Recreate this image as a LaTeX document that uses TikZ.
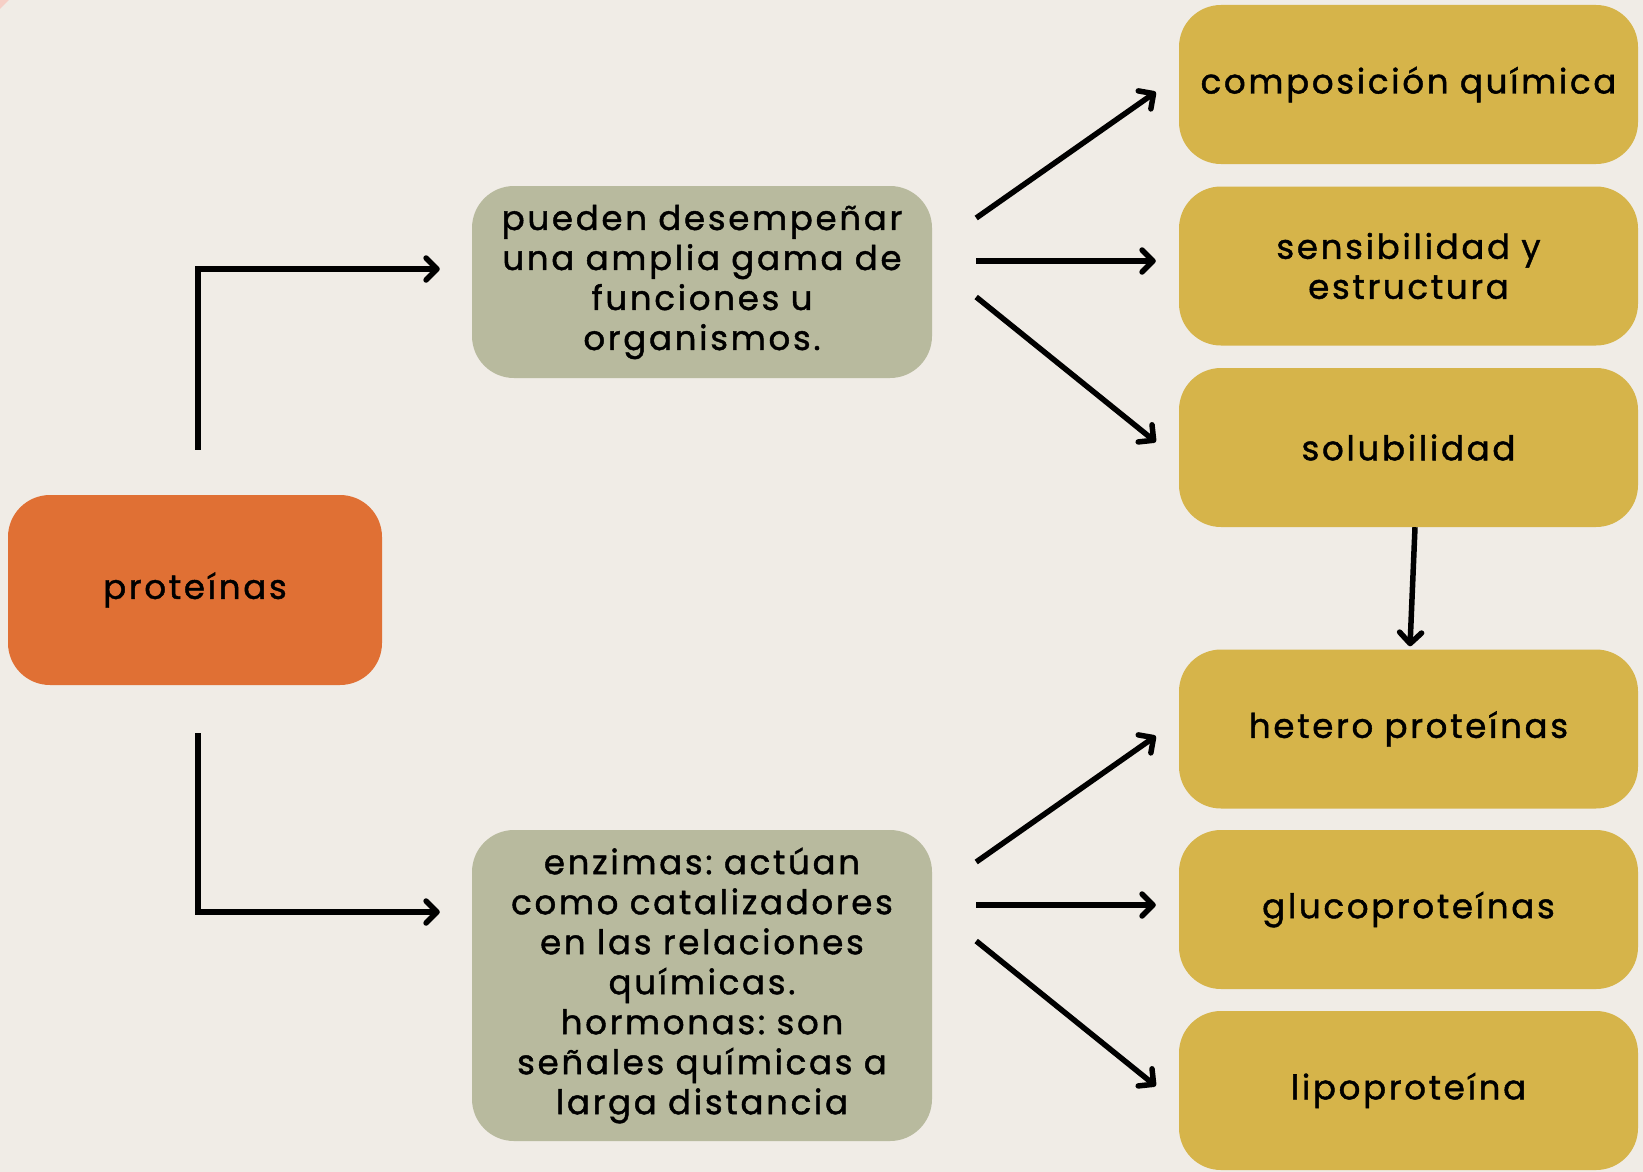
\documentclass[tikz,border=0pt]{standalone}
\usepackage{fontspec}
\setmainfont{Poppins}[LetterSpace=8,FakeBold=1.3,WordSpace=1.3]
\usetikzlibrary{arrows.meta,calc}
\definecolor{bg}{HTML}{F0ECE6}
\definecolor{orng}{HTML}{E07034}
\definecolor{sage}{HTML}{B8BA9E}
\definecolor{mustard}{HTML}{D6B44A}
\definecolor{pinkc}{HTML}{F6CFC6}
\frenchspacing
\begin{document}
\begin{tikzpicture}[x=1pt,y=-1pt,
  box/.style={rounded corners=42pt,inner sep=0pt,align=center,font=\fontsize{34}{40}\selectfont},
  protbox/.style={box,fill=orng,minimum width=374pt,minimum height=190pt},
  greenbox/.style={box,fill=sage,minimum width=460pt,text width=455pt},
  yelbox/.style={box,fill=mustard,minimum width=459pt,minimum height=159pt,text width=455pt},
  conn/.style={line width=5.5pt,-{Straight Barb[length=11pt,width=22pt,line cap=round,line join=round]}},
  elbow/.style={conn,line join=miter}
]
\fill[bg] (0,0) rectangle (1643,1172);
\fill[pinkc] (0,0) -- (9,0) -- (0,9) -- cycle;
\useasboundingbox (0,0) rectangle (1643,1172);

\node[protbox] (prot) at (195,590) {proteínas};
\node[greenbox,minimum height=192pt] (g1) at (702,282) {pueden desempeñar\\una amplia gama de\\funciones u\\organismos.};
\node[greenbox,minimum height=311pt] (g2) at (702,985.5) {enzimas: actúan\\como catalizadores\\en las relaciones\\químicas.\\hormonas: son\\señales químicas a\\larga distancia};

\node[yelbox] (y1) at (1408.5,84.5) {composición química};
\node[yelbox] (y2) at (1408.5,266) {sensibilidad y\\estructura};
\node[yelbox] (y3) at (1408.5,447.5) {solubilidad};
\node[yelbox] (y4) at (1408.5,729) {hetero proteínas};
\node[yelbox] (y5) at (1408.5,909.5) {glucoproteínas};
\node[yelbox] (y6) at (1408.5,1090.5) {lipoproteína};

% elbow connectors
\coordinate (pa) at ($(prot.north)+(3,-45)$);
\coordinate (pb) at ($(prot.south)+(3,48)$);
\coordinate (ga) at ($(g1.west)+(-32,-13)$);
\coordinate (gb) at ($(g2.west)+(-32,-73.5)$);
\draw[elbow] (pa) |- (ga);
\draw[elbow] (pb) |- (gb);

% top fan
\coordinate (s1) at ($(g1.east)+(44,-64)$);
\coordinate (s2) at ($(g1.east)+(44,-21)$);
\coordinate (s3) at ($(g1.east)+(44,15)$);
\coordinate (e1) at ($(y1.west)+(-23,7.5)$);
\coordinate (e2) at ($(y2.west)+(-23,-5)$);
\coordinate (e3) at ($(y3.west)+(-23,-5.5)$);
\draw[conn] (s1) -- (e1);
\draw[conn] (s2) -- (e2);
\draw[conn] (s3) -- (e3);

% bottom fan
\coordinate (t1) at ($(g2.east)+(44,-123.5)$);
\coordinate (t2) at ($(g2.east)+(44,-80.5)$);
\coordinate (t3) at ($(g2.east)+(44,-44.5)$);
\coordinate (f1) at ($(y4.west)+(-23,7)$);
\coordinate (f2) at ($(y5.west)+(-23,-4.5)$);
\coordinate (f3) at ($(y6.west)+(-23,-4.5)$);
\draw[conn] (t1) -- (f1);
\draw[conn] (t2) -- (f2);
\draw[conn] (t3) -- (f3);

% vertical
\coordinate (v1) at ($(y3.south)+(6.5,0)$);
\coordinate (v2) at ($(y4.north)+(1.5,-3)$);
\draw[conn] (v1) -- (v2);
\end{tikzpicture}
\end{document}
